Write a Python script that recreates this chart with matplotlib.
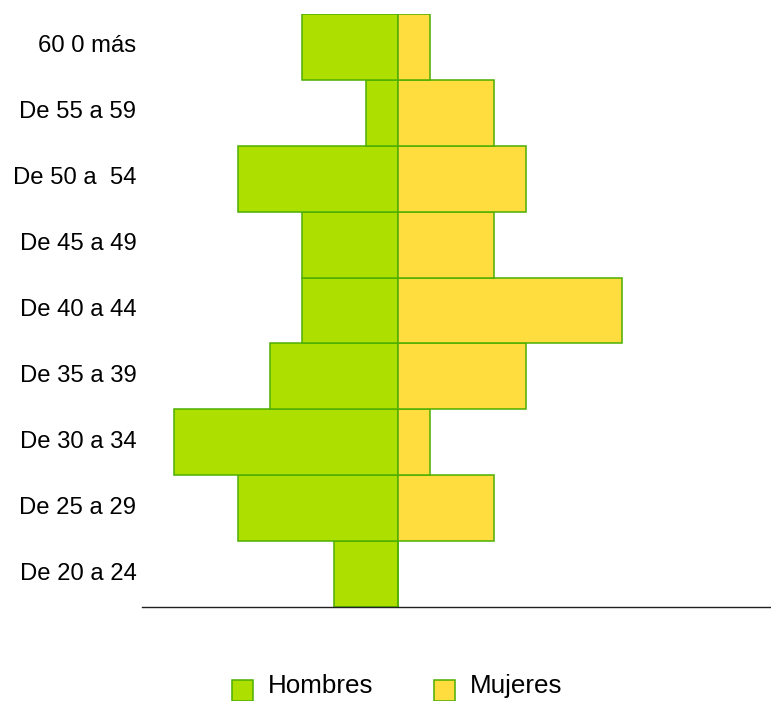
import matplotlib.pyplot as plt
import matplotlib.transforms as mtransforms
from matplotlib.patches import Rectangle

plt.rcParams['font.family'] = ['Liberation Sans', 'DejaVu Sans']

# Datos de la pirámide (de abajo hacia arriba)
grupos = ["De 20 a 24", "De 25 a 29", "De 30 a 34", "De 35 a 39", "De 40 a 44",
          "De 45 a 49", "De 50 a  54", "De 55 a 59", "60 0 más"]
hombres = [2, 5, 7, 4, 3, 3, 5, 1, 3]
mujeres = [0, 3, 1, 4, 7, 3, 4, 3, 1]
series = ["Hombres", "Mujeres"]

verde = "#ADE000"
amarillo = "#FFDD3F"
borde = "#4DAF00"

W, H = 771, 701
fig = plt.figure(figsize=(W / 100, H / 100), dpi=100)
ax = fig.add_axes([142 / W, 94 / H, 629 / W, 593 / H])

pos = range(len(grupos))
ax.barh(pos, [-h for h in hombres], height=1.0, color=verde, edgecolor=borde, linewidth=1.1)
ax.barh(pos, mujeres, height=1.0, color=amarillo, edgecolor=borde, linewidth=1.1)

ax.set_xlim(-8, 11.66)
ax.set_ylim(-0.5, len(grupos) - 0.5)
ax.set_yticks(list(pos))
ax.set_yticklabels(grupos, fontsize=17.2)
ax.tick_params(axis="y", length=0, pad=4)
# subir un poco las etiquetas
desplaza = mtransforms.ScaledTranslation(0, 3 / 100, fig.dpi_scale_trans)
for t in ax.get_yticklabels():
    t.set_transform(t.get_transform() + desplaza)
ax.set_xticks([])
for lado in ["top", "right", "left"]:
    ax.spines[lado].set_visible(False)
ax.spines["bottom"].set_color("#222222")
ax.spines["bottom"].set_linewidth(1.0)

# leyenda abajo
for x0, color, nombre in zip([232, 434], [verde, amarillo], series):
    fig.patches.append(Rectangle((x0 / W, 0), 21 / W, 21 / H, transform=fig.transFigure,
                                 facecolor=color, edgecolor=borde, linewidth=1.1))
    fig.text((x0 + 36) / W, 1 - 686 / H, nombre, fontsize=18.7, va="center", ha="left")

fig.savefig("out.png", dpi=100)
